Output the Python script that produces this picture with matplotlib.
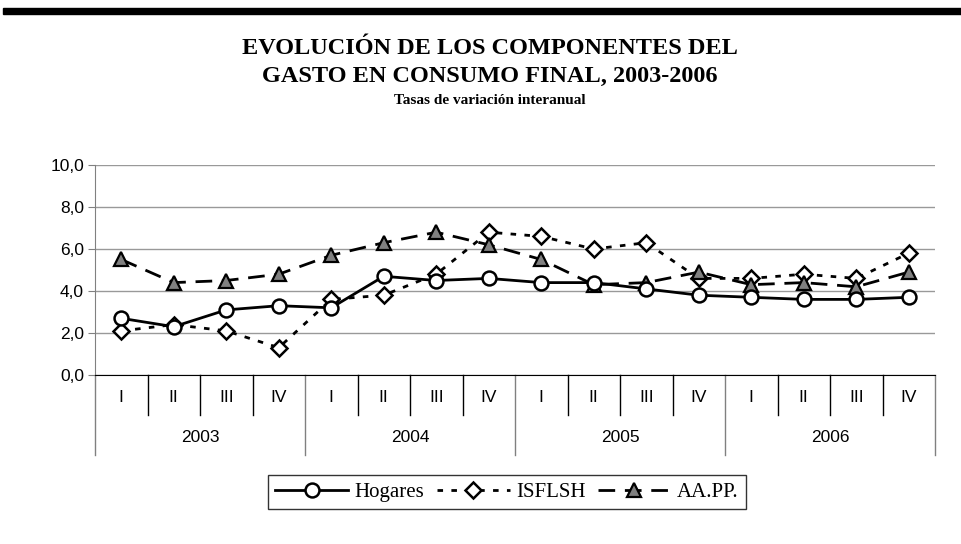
import matplotlib as mpl
mpl.use("Agg")
import matplotlib.pyplot as plt
from matplotlib.patches import Rectangle
from matplotlib.ticker import FuncFormatter

# data
years = ['2003', '2004', '2005', '2006']
quarters = ['I', 'II', 'III', 'IV']
hogares = [2.7, 2.3, 3.1, 3.3, 3.2, 4.7, 4.5, 4.6, 4.4, 4.4, 4.1, 3.8, 3.7, 3.6, 3.6, 3.7]
isflsh = [2.1, 2.4, 2.1, 1.3, 3.6, 3.8, 4.8, 6.8, 6.6, 6.0, 6.3, 4.6, 4.6, 4.8, 4.6, 5.8]
aapp = [5.5, 4.4, 4.5, 4.8, 5.7, 6.3, 6.8, 6.2, 5.5, 4.3, 4.4, 4.9, 4.3, 4.4, 4.2, 4.9]

W, H = 962, 544
fig = plt.figure(figsize=(W / 100, H / 100), dpi=100)

# black bar on top
fig.patches.append(Rectangle((3 / W, 1 - 14 / H), 1, 6 / H, transform=fig.transFigure,
                             color='black', zorder=5))

serif = ['Liberation Serif', 'DejaVu Serif']
sans = ['Liberation Sans', 'DejaVu Sans']
fig.text(490 / W, 1 - 49 / H, 'EVOLUCIÓN DE LOS COMPONENTES DEL', ha='center', va='center',
         family=serif, fontweight='bold', fontsize=17.5)
fig.text(490 / W, 1 - 76 / H, 'GASTO EN CONSUMO FINAL, 2003-2006', ha='center', va='center',
         family=serif, fontweight='bold', fontsize=17.5)
fig.text(490 / W, 1 - 101 / H, 'Tasas de variación interanual', ha='center', va='center',
         family=serif, fontweight='bold', fontsize=11)

left, right, top, bot = 95, 935, 165, 375
ax = fig.add_axes([left / W, 1 - bot / H, (right - left) / W, (bot - top) / H])

n = len(hogares)
x = list(range(n))
ax.plot(x, hogares, color='black', lw=2, marker='o', ms=10, mfc='white', mec='black',
        mew=1.8, label='Hogares', zorder=4)
ax.plot(x, isflsh, color='black', lw=2, ls=(0, (2, 3)), marker='D', ms=8.5, mfc='white',
        mec='black', mew=1.8, label='ISFLSH', zorder=3)
ax.plot(x, aapp, color='black', lw=2, ls=(0, (6, 3.5)), marker='^', ms=10.5, mfc='#808080',
        mec='black', mew=1.6, label='AA.PP.', zorder=3)

ax.set_xlim(-0.5, n - 0.5)
ax.set_ylim(0, 10)
ax.set_yticks([0, 2, 4, 6, 8, 10])
ax.yaxis.set_major_formatter(FuncFormatter(lambda v, p: ('%.1f' % v).replace('.', ',')))
ax.grid(axis='y', color='#999999', lw=1)
ax.set_axisbelow(True)
for s in ['top', 'right']:
    ax.spines[s].set_visible(False)
ax.spines['left'].set_color('#808080')
ax.spines['bottom'].set_color('black')
ax.tick_params(axis='y', length=5, color='#808080', labelsize=12.5, pad=3)
for lab in ax.get_yticklabels():
    lab.set_family(sans)

# category axis: quarters and years
ax.set_xticks(x)
ax.set_xticklabels(quarters * len(years), family=sans, fontsize=12.5)
ax.tick_params(axis='x', length=0, pad=11)
dy = 1.0 / (bot - top)
for k in range(n + 1):
    depth = 80 if k % 4 == 0 else 40
    col = '#808080' if k % 4 == 0 else 'black'
    ax.plot([k - 0.5, k - 0.5], [0, -depth * dy], transform=ax.get_xaxis_transform(),
            color=col, lw=1, clip_on=False)
for i, yr in enumerate(years):
    ax.text(i * 4 + 1.5, -62 * dy, yr, transform=ax.get_xaxis_transform(), ha='center',
            va='center', family=sans, fontsize=12.5)

leg = ax.legend(loc='center', bbox_to_anchor=(507 / W, 1 - 492 / H), bbox_transform=fig.transFigure,
                ncol=3, frameon=True, fancybox=False, handlelength=3.5, handletextpad=0.3,
                columnspacing=0.6, borderpad=0.35, prop={'family': serif, 'size': 15})
leg.get_frame().set_edgecolor('black')
leg.get_frame().set_linewidth(1)

fig.savefig('out.png', dpi=100)
